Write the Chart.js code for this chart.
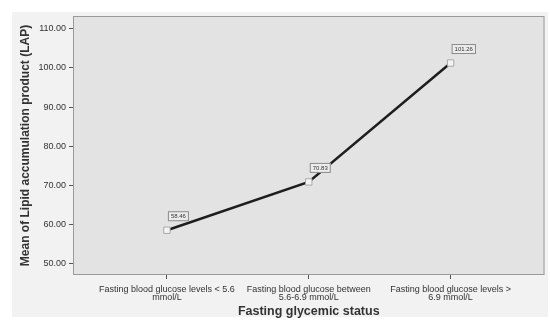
<!DOCTYPE html>
<html>
<head>
<meta charset="utf-8">
<script src="https://cdn.jsdelivr.net/npm/chart.js@4"></script>
<style>
  html, body { margin: 0; padding: 0; background: #ffffff; }
  #wrap { width: 550px; height: 326px; position: relative; }
</style>
</head>
<body>
<div id="wrap"><canvas id="lapChart" width="550" height="326"></canvas></div>
<script>
// categories (x) and the mean LAP for each
const categories = [
  ["Fasting blood glucose levels < 5.6", "mmol/L"],
  ["Fasting blood glucose between", "5.6-6.9 mmol/L"],
  ["Fasting blood glucose levels >", "6.9 mmol/L"],
];
const meanLAP = [58.46, 70.83, 101.26];
const yTicks = [50, 60, 70, 80, 90, 100, 110];

const FONT = "'Liberation Sans', Arial, sans-serif";

// grey panel + plot frame, like SPSS output
const backdrop = {
  id: "backdrop",
  beforeDraw(chart) {
    const { ctx, chartArea: a } = chart;
    ctx.save();
    ctx.fillStyle = "#ffffff";
    ctx.fillRect(0, 0, chart.width, chart.height);
    ctx.fillStyle = "#f2f2f2";
    ctx.fillRect(12, 12, 536, 305);
    ctx.fillStyle = "#e3e3e3";
    ctx.fillRect(a.left, a.top, a.right - a.left, a.bottom - a.top);
    ctx.strokeStyle = "#9a9a9a";
    ctx.lineWidth = 1;
    ctx.strokeRect(a.left + 0.5, a.top + 0.5, a.right - a.left - 1, a.bottom - a.top - 1);
    ctx.restore();
  },
};

// value labels in little boxes up-right of each point
const boxLabels = {
  id: "boxLabels",
  afterDatasetsDraw(chart) {
    const { ctx } = chart;
    const meta = chart.getDatasetMeta(0);
    ctx.save();
    ctx.font = "6px " + FONT;
    ctx.textBaseline = "middle";
    ctx.textAlign = "center";
    meta.data.forEach((pt, i) => {
      const txt = meanLAP[i].toFixed(2);
      const w = ctx.measureText(txt).width + 6;
      const h = 10;
      const bx = pt.x + 1, by = pt.y - 19;
      ctx.fillStyle = "#ececec";
      ctx.fillRect(bx, by, w, h);
      ctx.strokeStyle = "#8a8a8a";
      ctx.lineWidth = 1;
      ctx.strokeRect(bx + 0.5, by + 0.5, w - 1, h - 1);
      ctx.fillStyle = "#333";
      ctx.fillText(txt, bx + w / 2, by + h / 2 + 0.5);
    });
    ctx.restore();
  },
};

new Chart(document.getElementById("lapChart"), {
  type: "line",
  data: {
    datasets: [
      {
        data: meanLAP.map((v, i) => ({ x: i, y: v })),
        borderColor: "#1e1e1e",
        borderWidth: 2.5,
        tension: 0,
        pointStyle: "rect",
        pointRadius: 4.5,
        pointBackgroundColor: "#f4f4f4",
        pointBorderColor: "#a8a8a8",
        pointBorderWidth: 1,
      },
    ],
  },
  options: {
    responsive: false,
    animation: false,
    layout: { padding: { top: 16, right: 5, left: 12, bottom: 0 } },
    plugins: { legend: { display: false }, tooltip: { enabled: false } },
    scales: {
      x: {
        type: "linear",
        min: -0.662,
        max: 2.662,
        afterBuildTicks: (s) => { s.ticks = [0, 1, 2].map((v) => ({ value: v })); },
        afterFit: (s) => { s.height = 51; },
        ticks: {
          callback: (v) => categories[v],
          font: { family: FONT, size: 9, lineHeight: 0.9 },
          color: "#333",
          padding: 6,
          maxRotation: 0,
          autoSkip: false,
        },
        grid: { drawOnChartArea: false, tickLength: 4, color: "#555" },
        border: { display: false },
        title: {
          display: true,
          text: "Fasting glycemic status",
          font: { family: FONT, size: 12.5, weight: "bold" },
          color: "#333",
          padding: { top: 4, bottom: 7 },
        },
      },
      y: {
        min: 47,
        max: 113.3,
        afterBuildTicks: (s) => { s.ticks = yTicks.map((v) => ({ value: v })); },
        afterFit: (s) => { s.width = 61; },
        ticks: {
          callback: (v) => v.toFixed(2),
          font: { family: FONT, size: 9 },
          color: "#333",
          padding: 3,
        },
        grid: { drawOnChartArea: false, tickLength: 4, color: "#555" },
        border: { display: false },
        title: {
          display: true,
          text: "Mean of Lipid accumulation product (LAP)",
          font: { family: FONT, size: 12, weight: "bold" },
          color: "#333",
          padding: { top: 6, bottom: 0 },
        },
      },
    },
  },
  plugins: [backdrop, boxLabels],
});
</script>
</body>
</html>
